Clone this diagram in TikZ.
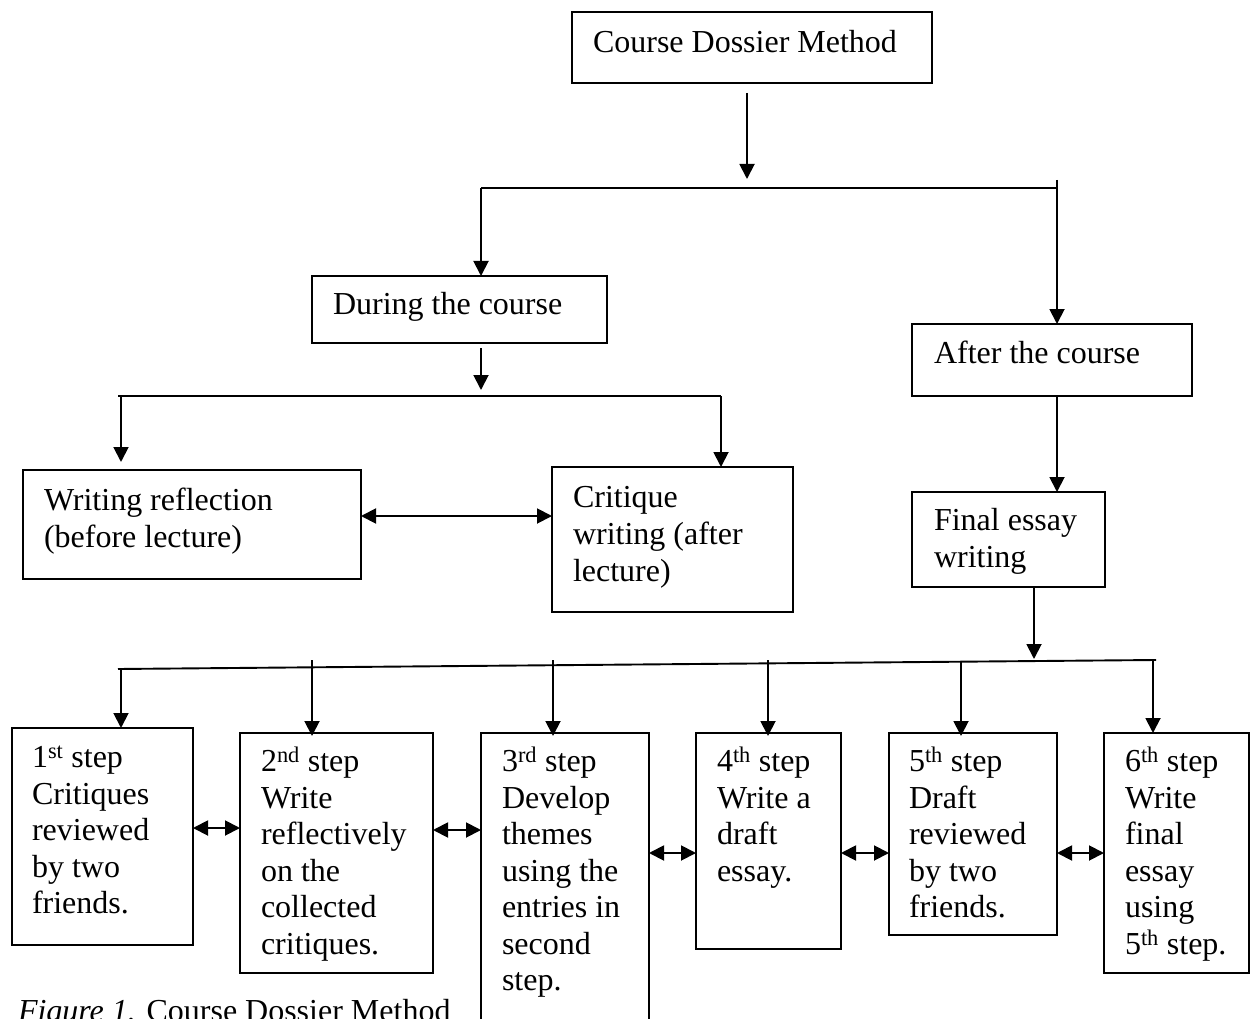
\documentclass[tikz,border=0pt]{standalone}
\usepackage{fontspec}
\setmainfont{Liberation Serif}
\usetikzlibrary{arrows.meta}
\begin{document}
\begin{tikzpicture}[x=1pt,y=-1pt,
  box/.style={draw, line width=1.9pt, rectangle, inner sep=0pt, outer sep=0pt, anchor=north west},
  txt/.style={inner sep=0pt, outer sep=0pt, anchor=north west, align=left, font=\fontsize{32}{37}\selectfont},
  stxt/.style={txt, font=\fontsize{32}{36.5}\selectfont},
  ln/.style={line width=1.9pt},
  arr/.style={line width=1.9pt, -{Triangle[length=15pt,width=15pt]}},
  dbl/.style={line width=1.9pt, {Triangle[length=15pt,width=15pt]}-{Triangle[length=15pt,width=15pt]}}]
\useasboundingbox (0,0) rectangle (1251,1019);
\fill[white] (0,0) rectangle (1251,1019);

% upper boxes
\node[box, minimum width=360pt, minimum height=71pt] (cdm) at (572,12) {};
\node[txt] (cdmt) at (593,27.1) {\strut Course Dossier Method};
\node[box, minimum width=295pt, minimum height=67pt] (dur) at (312,276) {};
\node[txt] (durt) at (333,289.1) {\strut During the course};
\node[box, minimum width=280pt, minimum height=72pt] (aft) at (912,324) {};
\node[txt] (aftt) at (934,337.1) {\strut After the course};
\node[box, minimum width=193pt, minimum height=95pt] (fin) at (912,492) {};
\node[txt] (fint) at (934,504.1) {\strut Final essay\\writing};
\node[box, minimum width=338pt, minimum height=109pt] (wr) at (23,470) {};
\node[txt] (wrt) at (44,484.1) {\strut Writing reflection\\(before lecture)};
\node[box, minimum width=241pt, minimum height=145pt] (cr) at (552,467) {};
\node[txt] (crt) at (573,481.1) {\strut Critique\\writing (after\\lecture)};

% step boxes
\node[box, minimum width=181pt, minimum height=217pt] (s1) at (12,728) {};
\node[stxt] (s1t) at (32,742.1) {\strut 1\textsuperscript{st} step\\Critiques\\reviewed\\by two\\friends.};
\node[box, minimum width=193pt, minimum height=240pt] (s2) at (240,733) {};
\node[stxt] (s2t) at (261,746.1) {\strut 2\textsuperscript{nd} step\\Write\\reflectively\\on the\\collected\\critiques.};
\node[box, minimum width=168pt, minimum height=300pt] (s3) at (481,733) {};
\node[stxt] (s3t) at (502,746.1) {\strut 3\textsuperscript{rd} step\\Develop\\themes\\using the\\entries in\\second\\step.};
\node[box, minimum width=145pt, minimum height=216pt] (s4) at (696,733) {};
\node[stxt] (s4t) at (717,746.1) {\strut 4\textsuperscript{th} step\\Write a\\draft\\essay.};
\node[box, minimum width=168pt, minimum height=202pt] (s5) at (889,733) {};
\node[stxt] (s5t) at (909,746.1) {\strut 5\textsuperscript{th} step\\Draft\\reviewed\\by two\\friends.};
\node[box, minimum width=145pt, minimum height=240pt] (s6) at (1104,733) {};
\node[stxt] (s6t) at (1125,746.1) {\strut 6\textsuperscript{th} step\\Write\\final\\essay\\using\\5\textsuperscript{th} step.};

% caption
\node[txt, anchor=base west] (cap) at (18,1021) {\textit{Figure 1.} Course Dossier Method};

% top connectors
\coordinate (a1) at (747,93);
\coordinate (a2) at (747,179);
\draw[arr] (a1) -- (a2);
\coordinate (bL) at (481,188);
\coordinate (bR) at (1057,188);
\coordinate (bRt) at (1057,180);
\draw[ln] (bL) -- (bR);
\draw[arr] (bL) -- (bL |- dur.north);
\draw[arr] (bRt) -- (bRt |- aft.north);

% during branch
\coordinate (d1) at (481,348);
\coordinate (d2) at (481,390);
\draw[arr] (d1) -- (d2);
\coordinate (eL) at (118,396);
\coordinate (eR) at (721,396);
\coordinate (eLd) at (121,396);
\coordinate (eLt) at (121,462);
\draw[ln] (eL) -- (eR);
\draw[arr] (eLd) -- (eLt);
\draw[arr] (eR) -- (eR |- cr.north);
\draw[dbl] (wr.east |- 0,516) -- (cr.west |- 0,516);

% after branch
\coordinate (f1) at (1057,396);
\draw[arr] (f1) -- (f1 |- fin.north);
\coordinate (g1) at (1034,587);
\coordinate (g2) at (1034,659);
\draw[arr] (g1) -- (g2);

% steps bus
\coordinate (hL) at (118,669);
\coordinate (hR) at (1156,660);
\draw[ln] (hL) -- (hR);
\coordinate (k1) at (121,669);
\coordinate (k2) at (312,660);
\coordinate (k3) at (553,660);
\coordinate (k4) at (768,660);
\coordinate (k5) at (961,661);
\coordinate (k6) at (1153,660);
\draw[arr] (k1) -- (k1 |- s1.north);
\draw[arr] (k2) -- ([yshift=-3pt]k2 |- s2.north);
\draw[arr] (k3) -- ([yshift=-3pt]k3 |- s3.north);
\draw[arr] (k4) -- ([yshift=-3pt]k4 |- s4.north);
\draw[arr] (k5) -- ([yshift=-3pt]k5 |- s5.north);
\draw[arr] (k6) -- (k6 |- s6.north);

% double arrows between steps
\draw[dbl] (s1.east |- 0,828) -- (s2.west |- 0,828);
\draw[dbl] (s2.east |- 0,830) -- (s3.west |- 0,830);
\draw[dbl] (s3.east |- 0,853) -- (s4.west |- 0,853);
\draw[dbl] (s4.east |- 0,853) -- (s5.west |- 0,853);
\draw[dbl] (s5.east |- 0,853) -- (s6.west |- 0,853);
\end{tikzpicture}
\end{document}
